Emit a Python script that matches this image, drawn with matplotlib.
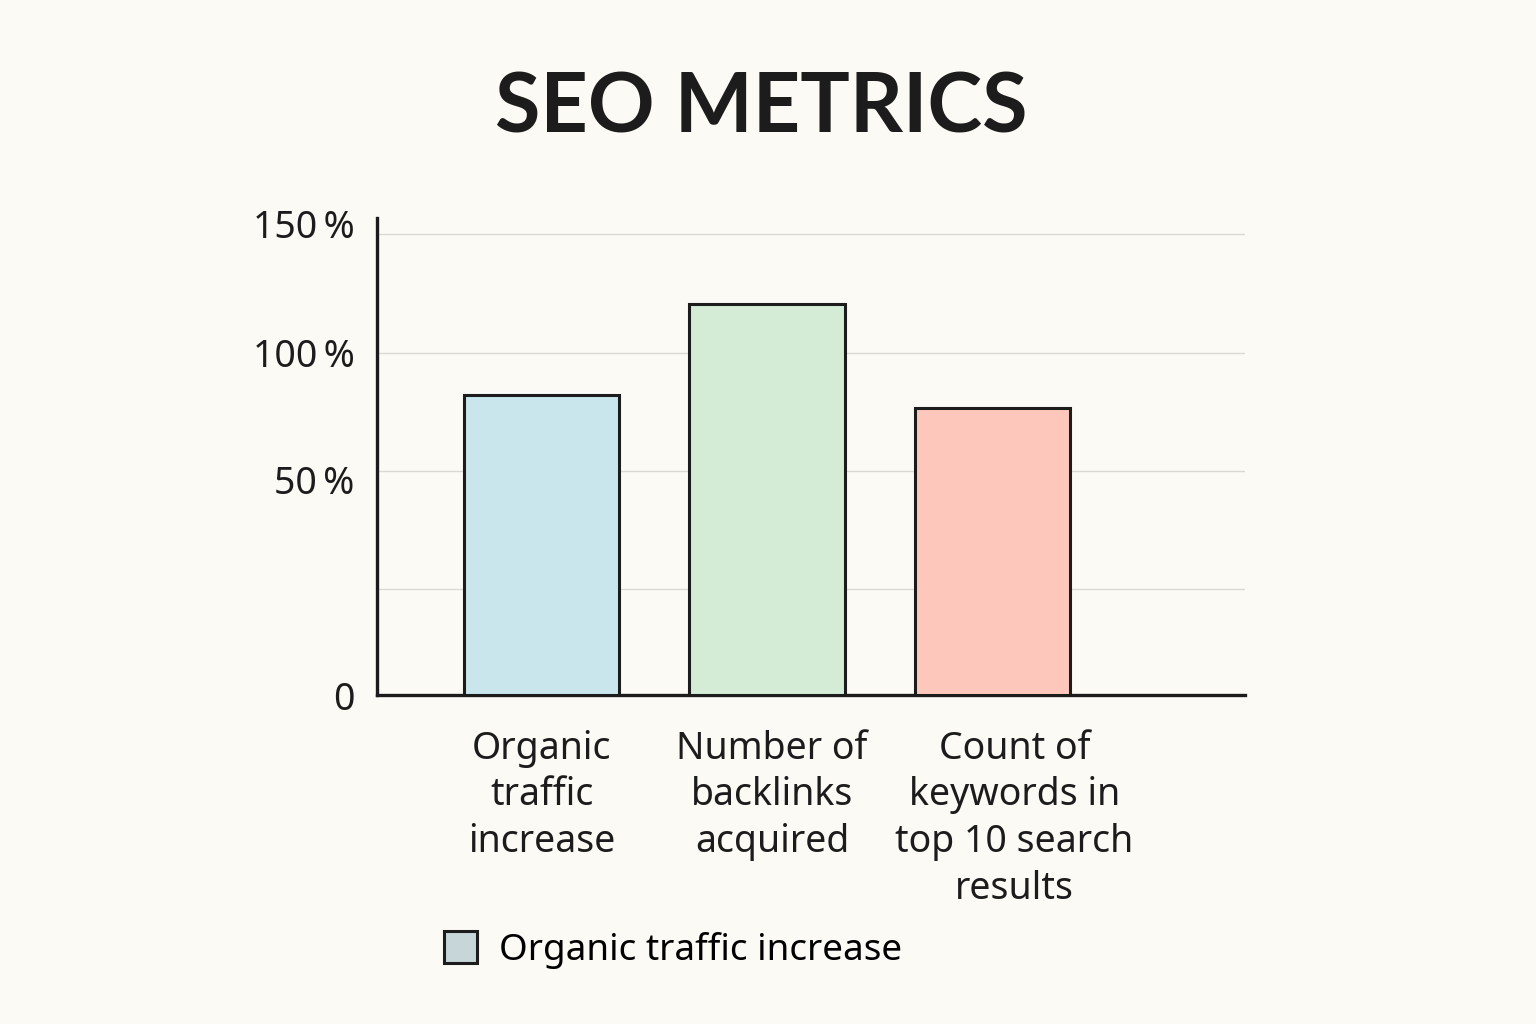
import numpy as np
import matplotlib
matplotlib.use("Agg")
import matplotlib.pyplot as plt
from matplotlib.patches import Patch
from matplotlib.transforms import ScaledTranslation

categories = ["Organic\ntraffic\nincrease", "Number of\nbacklinks\nacquired",
              "Count of\nkeywords in\ntop 10 search\nresults"]
values = [82, 120.5, 76.5]
bar_colors = ["#c8e6ec", "#d4ecd6", "#fdc8bb"]
ytick_vals = [0, 25, 50, 100, 150]
ytick_labels = ["0", "", "50\u2009%", "100\u2009%", "150\u2009%"]
legend_label = "Organic traffic increase"
title = "SEO METRICS"

# piecewise axis mapping as drawn in the reference (uneven spacing)
_v = np.array([0, 25, 50, 100, 150, 170])
_p = np.array([0, 106, 224, 342, 461, 508.6])

def fwd(v):
    return np.interp(v, _v, _p, left=-1e3, right=1e4)

def inv(p):
    return np.interp(p, _p, _v)

bg = "#fbfaf5"
plt.rcParams['font.family'] = ['Noto Sans', 'DejaVu Sans']
fig = plt.figure(figsize=(15.36, 10.24), dpi=100, facecolor=bg)
ax = fig.add_axes([377/1536, 1-695/1024, (1245-377)/1536, (695-218)/1024])
ax.set_facecolor(bg)
ax.set_yscale('function', functions=(fwd, inv))

x = np.arange(len(categories))
ax.bar(x, values, width=0.69, color=bar_colors, edgecolor="#1c1c1c", linewidth=2.2, zorder=3)

ax.set_xlim(-0.73, 3.12)
ax.set_ylim(0, 156.7)
ax.set_yticks(ytick_vals)
ax.set_yticklabels(ytick_labels, fontsize=27)
ax.set_xticks(x)
ax.set_xticklabels(categories, fontsize=27, linespacing=1.3, va='top')
ax.tick_params(axis='both', length=0, colors="#1c1c1c")
ax.tick_params(axis='y', pad=16)
ax.tick_params(axis='x', pad=25)
ax.yaxis.grid(True, color="#d9d9d6", linewidth=1.0, zorder=0)
ax.set_axisbelow(True)
for s in ["top", "right"]:
    ax.spines[s].set_visible(False)
for s in ["left", "bottom"]:
    ax.spines[s].set_linewidth(2.4)
    ax.spines[s].set_color("#1c1c1c")

# small horizontal nudges of the category labels, as in the reference
for lbl, dx in zip(ax.get_xticklabels(), [0, 5, 22]):
    lbl.set_transform(lbl.get_transform() + ScaledTranslation(dx/100, 0, fig.dpi_scale_trans))
# the 150 % label sits slightly above its gridline
ylbls = ax.get_yticklabels()
ylbls[4].set_transform(ylbls[4].get_transform() + ScaledTranslation(0, 10/100, fig.dpi_scale_trans))
ylbls[2].set_transform(ylbls[2].get_transform() + ScaledTranslation(0, -9/100, fig.dpi_scale_trans))

fig.text(761/1536, 1-109/1024, title, ha='center', va='center', fontsize=59.5,
         fontweight='bold', family=['Lato', 'DejaVu Sans'], color="#1c1c1c")

handle = Patch(facecolor="#c7d6d9", edgecolor="#1c1c1c", linewidth=2.2)
fig.legend([handle], [legend_label], loc='center left',
           bbox_to_anchor=(444/1536, 1-950/1024), frameon=False, fontsize=26.5,
           handlelength=0.9, handleheight=0.95, handletextpad=0.6,
           borderpad=0, borderaxespad=0)

fig.savefig("out.png", dpi=100, facecolor=bg)
